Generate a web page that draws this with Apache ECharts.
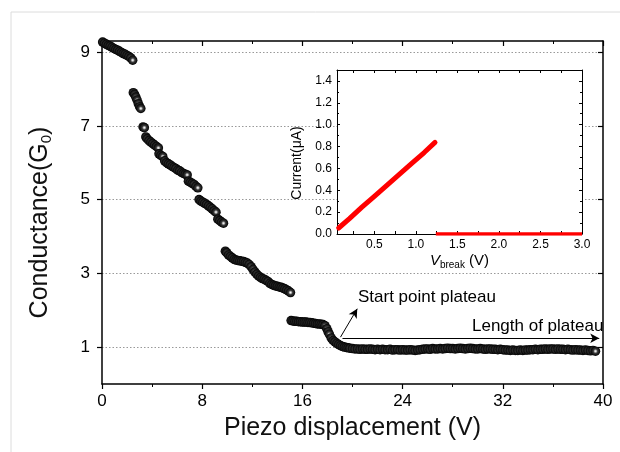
<!DOCTYPE html>
<html><head><meta charset="utf-8">
<script src="https://cdn.jsdelivr.net/npm/echarts@6/dist/echarts.min.js"></script>
<style>html,body{margin:0;padding:0;background:#fff}#c{width:620px;height:452px}</style>
</head><body><div id="c"></div><script>
// ---- main plot data: piezo displacement (V) vs conductance (G0) ----
const segA = [[0.05,9.27],[0.2,9.24],[0.35,9.21],[0.5,9.18],[0.65,9.16],[0.8,9.13],[0.95,9.10],[1.1,9.07],[1.25,9.05],[1.4,9.02],[1.55,8.99],[1.7,8.96],[1.85,8.94],[2.0,8.91],[2.15,8.88],[2.3,8.84],[2.45,8.78]];
const segB = [[2.5,7.9],[2.6,7.85],[2.7,7.78],[2.8,7.7],[2.9,7.6],[3.0,7.52],[3.1,7.47]];
const segC = [[3.28,6.97],[3.38,6.95]];
const segD = [[3.5,6.7],[3.6,6.65],[3.75,6.6],[3.9,6.56],[4.05,6.52],[4.2,6.48],[4.35,6.44],[4.5,6.4],
  [4.55,6.24],[4.7,6.2],[4.85,6.17],
  [5.0,6.05],[5.15,6.0],[5.3,5.97],[5.45,5.94],[5.6,5.9],[5.75,5.87],[5.9,5.84],[6.05,5.8],[6.2,5.78],[6.35,5.74],[6.5,5.71],[6.65,5.69],[6.8,5.67],
  [6.9,5.5],[7.05,5.47],[7.2,5.44],[7.35,5.41],[7.5,5.36],[7.65,5.32]];
const segE = [[7.75,5.0],[7.9,4.96],[8.05,4.93],[8.2,4.9],[8.35,4.87],[8.5,4.83],[8.65,4.79],[8.8,4.75],[8.95,4.7],[9.1,4.66],
  [9.25,4.47],[9.4,4.43],[9.55,4.39],[9.7,4.36]];
const segF = [[9.85,3.6],[9.95,3.56],[10.1,3.5],[10.25,3.46],[10.4,3.42],[10.55,3.38],[10.7,3.36],[10.85,3.35],[11.0,3.34],[11.15,3.33],[11.3,3.32],[11.45,3.3],
  [11.6,3.28],[11.75,3.24],[11.9,3.18],[12.05,3.11],[12.2,3.04],[12.35,2.98],[12.5,2.93],[12.65,2.89],[12.8,2.86],[12.95,2.84],[13.1,2.81],[13.25,2.78],
  [13.4,2.73],[13.55,2.7],[13.7,2.68],[13.85,2.66],[14.0,2.65],[14.15,2.63],[14.3,2.62],[14.45,2.6],[14.6,2.58],[14.75,2.55],[14.9,2.52],[15.05,2.48]];
const segG = [[15.1,1.72],[15.25,1.71],[15.4,1.7],[15.55,1.7],[15.7,1.69],[15.85,1.69],[16.0,1.68],[16.15,1.68],[16.3,1.68],[16.45,1.67],[16.6,1.67],
  [16.75,1.66],[16.9,1.65],[17.05,1.64],[17.2,1.63],[17.35,1.63],[17.5,1.62],[17.65,1.61],[17.8,1.58],[17.95,1.5],[18.05,1.42],[18.15,1.35],
  [18.3,1.25],[18.45,1.18],[18.6,1.14],[18.75,1.1],[18.9,1.07],[19.05,1.04],[19.2,1.02],[19.35,1.0],[19.5,0.99],[19.65,0.98],[19.8,0.97]];
const plateauX = [20.0,20.2,20.4,20.6,20.8,21.0,21.2,21.4,21.6,21.8,
  22.0,22.2,22.4,22.6,22.8,23.0,23.2,23.4,23.6,23.8,
  24.0,24.2,24.4,24.6,24.8,25.0,25.2,25.4,25.6,25.8,
  26.0,26.2,26.4,26.6,26.8,27.0,27.2,27.4,27.6,27.8,
  28.0,28.2,28.4,28.6,28.8,29.0,29.2,29.4,29.6,29.8,
  30.0,30.2,30.4,30.6,30.8,31.0,31.2,31.4,31.6,31.8,
  32.0,32.2,32.4,32.6,32.8,33.0,33.2,33.4,33.6,33.8,
  34.0,34.2,34.4,34.6,34.8,35.0,35.2,35.4,35.6,35.8,
  36.0,36.2,36.4,36.6,36.8,37.0,37.2,37.4,37.6,37.8,
  38.0,38.2,38.4,38.6,38.8,39.0,39.2,39.4];
const plateauG = [0.96,0.95,0.95,0.94,0.95,0.94,0.94,0.95,0.94,0.93,
  0.94,0.93,0.94,0.93,0.93,0.94,0.92,0.93,0.93,0.92,
  0.93,0.92,0.92,0.93,0.92,0.91,0.92,0.93,0.94,0.95,
  0.95,0.94,0.96,0.95,0.95,0.96,0.95,0.96,0.97,0.96,
  0.96,0.95,0.96,0.97,0.96,0.95,0.96,0.97,0.96,0.95,
  0.95,0.96,0.95,0.94,0.95,0.95,0.94,0.94,0.93,0.94,
  0.93,0.92,0.92,0.91,0.92,0.91,0.91,0.92,0.91,0.92,
  0.92,0.93,0.93,0.94,0.93,0.94,0.94,0.95,0.94,0.95,
  0.95,0.94,0.95,0.94,0.94,0.93,0.94,0.93,0.92,0.93,
  0.92,0.92,0.91,0.92,0.91,0.90,0.91,0.89];
const mainYTicks = [1, 3, 5, 7, 9];
// annotation arrows (data coordinates)
const arrowStart = [[19.04, 1.27], [20.38, 2.04]];
const arrowLength = [[19.2, 1.24], [39.7, 1.24]];

// ---- inset data: V_break (V) vs current (uA) ----
const ivRiseV = [0.07, 0.2, 0.35, 0.5, 0.65, 0.8, 0.95, 1.1, 1.23];
const ivRiseI = [0.055, 0.14, 0.245, 0.345, 0.445, 0.545, 0.645, 0.745, 0.838];
const ivFlatV = [1.24, 3.0];
const ivFlatI = [0, 0];
const insetXLabels = [0.5, 1.0, 1.5, 2.0, 2.5, 3.0];
const insetXTicks = [0.25, 0.5, 0.75, 1.0, 1.25, 1.5, 1.75, 2.0, 2.25, 2.5, 2.75];

const mainData = segA.concat(segB, segC, segD, segE, segF, segG, plateauX.map((x, i) => [x, plateauG[i]]));
const FONT = "'Liberation Sans', Arial, sans-serif";
const ball = {type: 'radial', x: 0.5, y: 0.5, r: 0.5, colorStops: [
  {offset: 0, color: '#ffffff'}, {offset: 0.2, color: '#bdbdbd'}, {offset: 0.45, color: '#3a3a3a'}, {offset: 1, color: '#000'}]};

const chart = echarts.init(document.getElementById('c'), null, {renderer: 'canvas'});
const axisLine = {show: true, onZero: false, lineStyle: {color: '#000', width: 1.5}};
const insetLine = {show: true, onZero: false, lineStyle: {color: '#000', width: 1}};
chart.setOption({
  animation: false,
  backgroundColor: '#fff',
  textStyle: {fontFamily: FONT},
  grid: [
    {left: 102, right: 17, top: 41, bottom: 68, containLabel: false},
    {left: 337, right: 38, top: 70, bottom: 218, containLabel: false, z: 4}
  ],
  xAxis: [
    {gridIndex: 0, type: 'value', min: 0, max: 40, interval: 8, position: 'bottom',
     axisLine: axisLine, axisTick: {show: true, inside: false, length: 5, lineStyle: {color: '#000', width: 1.2}},
     minorTick: {show: true, splitNumber: 2, length: 3, lineStyle: {color: '#000', width: 1}},
     axisLabel: {color: '#000', fontSize: 17, margin: 9, fontFamily: FONT},
     splitLine: {show: false},
     name: 'Piezo displacement (V)', nameLocation: 'middle', nameGap: 32,
     nameTextStyle: {fontSize: 25, color: '#111', fontFamily: FONT}},
    {gridIndex: 0, type: 'value', min: 0, max: 40, interval: 8, position: 'top',
     axisLine: axisLine, axisTick: {show: true, inside: true, length: 5, lineStyle: {color: '#000', width: 1.2}},
     minorTick: {show: true, splitNumber: 2, length: 3, lineStyle: {color: '#000', width: 1}},
     axisLabel: {show: false}, splitLine: {show: false}},
    {gridIndex: 1, type: 'value', min: 0.05, max: 3.0, position: 'bottom', z: 5,
     axisLine: insetLine,
     axisTick: {show: true, inside: true, length: 3, customValues: insetXTicks, lineStyle: {color: '#000', width: 1}},
     axisLabel: {color: '#000', fontSize: 12, margin: 5, customValues: insetXLabels, formatter: v => v.toFixed(1), fontFamily: FONT},
     splitLine: {show: false},
     name: '{v|V}{s|break}{n| (V)}', nameLocation: 'middle', nameGap: 17,
     nameTextStyle: {rich: {
       v: {fontSize: 15, fontStyle: 'italic', color: '#000', fontFamily: FONT},
       s: {fontSize: 10, color: '#000', padding: [9, 0, 0, 0], fontFamily: FONT},
       n: {fontSize: 15, color: '#000', fontFamily: FONT}}}},
    {gridIndex: 1, type: 'value', min: 0.05, max: 3.0, position: 'top', z: 5,
     axisLine: insetLine,
     axisTick: {show: true, inside: true, length: 3, customValues: insetXTicks, lineStyle: {color: '#000', width: 1}},
     axisLabel: {show: false}, splitLine: {show: false}}
  ],
  yAxis: [
    {gridIndex: 0, type: 'value', min: 0, max: 9.3, position: 'left',
     axisLine: axisLine,
     axisTick: {show: true, inside: false, length: 5, customValues: mainYTicks, lineStyle: {color: '#000', width: 1.2}},
     axisLabel: {color: '#000', fontSize: 17, margin: 12, customValues: mainYTicks, fontFamily: FONT},
     splitLine: {show: true, lineStyle: {color: '#999', type: [1.5, 2], width: 1}},
     name: '{a|Conductance(G}{s|0}{a|)}', nameLocation: 'middle', nameGap: 48,
     nameTextStyle: {padding: [0, 20, 0, 0], rich: {
       a: {fontSize: 25, color: '#111', fontFamily: FONT},
       s: {fontSize: 15, color: '#111', padding: [12, 0, 0, 0], fontFamily: FONT}}}},
    {gridIndex: 0, type: 'value', min: 0, max: 9.3, position: 'right',
     axisLine: axisLine,
     axisTick: {show: true, inside: true, length: 5, customValues: mainYTicks, lineStyle: {color: '#000', width: 1.2}},
     axisLabel: {show: false}, splitLine: {show: false}},
    {gridIndex: 1, type: 'value', min: 0, max: 1.5, interval: 0.2, position: 'left', z: 5,
     axisLine: insetLine,
     axisTick: {show: true, inside: true, length: 3, lineStyle: {color: '#000', width: 1}},
     minorTick: {show: true, splitNumber: 2, length: 2, lineStyle: {color: '#000', width: 1}},
     axisLabel: {color: '#000', fontSize: 12, margin: 5, showMaxLabel: false, formatter: v => v.toFixed(1), fontFamily: FONT},
     splitLine: {show: false},
     name: 'Current(\u03bcA)', nameLocation: 'middle', nameGap: 33,
     nameTextStyle: {fontSize: 14, color: '#000', fontFamily: FONT, padding: [0, 22, 0, 0]}},
    {gridIndex: 1, type: 'value', min: 0, max: 1.5, interval: 0.2, position: 'right', z: 5,
     axisLine: insetLine,
     axisTick: {show: true, inside: true, length: 3, lineStyle: {color: '#000', width: 1}},
     minorTick: {show: true, splitNumber: 2, length: 2, lineStyle: {color: '#000', width: 1}},
     axisLabel: {show: false}, splitLine: {show: false}}
  ],
  graphic: [
    {type: 'rect', shape: {x: 337, y: 70, width: 245, height: 164}, style: {fill: '#fff'}, z: 1, silent: true},
    {type: 'line', shape: {x1: 11, y1: 12, x2: 620, y2: 12}, style: {stroke: '#dcdcdc', lineWidth: 1}, z: 0, silent: true},
    {type: 'line', shape: {x1: 11, y1: 12, x2: 11, y2: 452}, style: {stroke: '#dcdcdc', lineWidth: 1}, z: 0, silent: true},
    {type: 'text', left: 358, top: 289, z: 10, style: {text: 'Start point plateau', fontSize: 17, fill: '#000', font: "17px 'Liberation Sans', Arial, sans-serif"}},
    {type: 'text', left: 472, top: 318, z: 10, style: {text: 'Length of plateau', fontSize: 17, fill: '#000', font: "17px 'Liberation Sans', Arial, sans-serif"}}
  ],
  series: [
    {type: 'scatter', xAxisIndex: 0, yAxisIndex: 0, data: mainData, symbol: 'circle', symbolSize: 9.5,
     itemStyle: {color: ball, opacity: 1}, z: 3, silent: true,
     markLine: {silent: true, symbol: ['none', 'arrow'], symbolSize: [7, 9], label: {show: false},
       lineStyle: {color: '#000', width: 1, type: 'solid'},
       data: [
         [{coord: arrowStart[0]}, {coord: arrowStart[1]}],
         [{coord: arrowLength[0]}, {coord: arrowLength[1]}]
       ]}},
    {type: 'line', xAxisIndex: 2, yAxisIndex: 2, data: ivRiseV.map((v, i) => [v, ivRiseI[i]]), showSymbol: false,
     lineStyle: {color: '#ff0000', width: 5, cap: 'round'}, z: 6, silent: true},
    {type: 'line', xAxisIndex: 2, yAxisIndex: 2, data: ivFlatV.map((v, i) => [v, ivFlatI[i]]), showSymbol: false,
     lineStyle: {color: '#ff0000', width: 3.5}, z: 6, silent: true}
  ]
});
</script></body></html>
